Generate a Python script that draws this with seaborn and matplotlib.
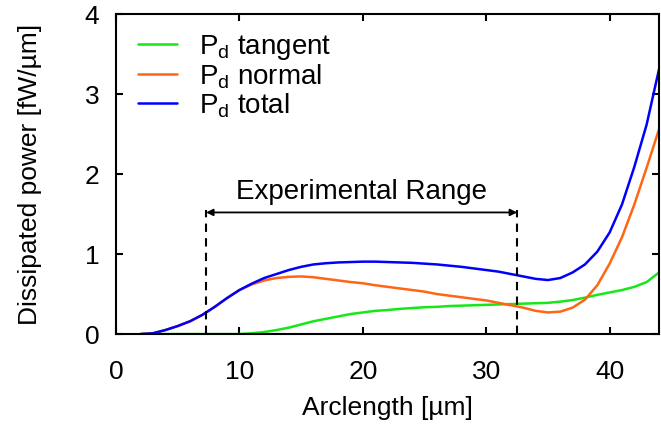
import numpy as np
import pandas as pd
import matplotlib
matplotlib.use("Agg")
import matplotlib.pyplot as plt
import seaborn as sns

# ---- data ----
arclength = [2, 3, 4, 5, 6, 7, 8, 9, 10, 11, 12, 13, 14, 15, 16, 17, 18, 19, 20, 21, 22,
             23, 24, 25, 26, 27, 28, 29, 30, 31, 32, 33, 34, 35, 36, 37, 38, 39, 40, 41, 42, 43, 44]
p_tangent = [0, 0, 0, 0, 0, 0, 0, 0, 0, 0.01, 0.025, 0.05, 0.08, 0.12, 0.16, 0.19, 0.22, 0.25, 0.27,
             0.29, 0.30, 0.315, 0.325, 0.335, 0.34, 0.35, 0.355, 0.36, 0.365, 0.37, 0.375, 0.38,
             0.385, 0.39, 0.405, 0.425, 0.455, 0.49, 0.52, 0.55, 0.59, 0.65, 0.77]
p_normal = [0.0, 0.01, 0.05, 0.10, 0.16, 0.24, 0.34, 0.45, 0.55, 0.62, 0.67, 0.70, 0.715, 0.72,
            0.71, 0.69, 0.67, 0.65, 0.635, 0.61, 0.59, 0.57, 0.55, 0.53, 0.50, 0.48, 0.46, 0.44,
            0.42, 0.39, 0.36, 0.33, 0.29, 0.27, 0.28, 0.33, 0.43, 0.61, 0.88, 1.21, 1.62, 2.08, 2.56]
p_total = [0.0, 0.01, 0.05, 0.10, 0.16, 0.24, 0.34, 0.45, 0.55, 0.63, 0.70, 0.75, 0.80, 0.84,
           0.87, 0.885, 0.895, 0.90, 0.905, 0.905, 0.90, 0.895, 0.89, 0.88, 0.87, 0.855, 0.84,
           0.82, 0.80, 0.78, 0.75, 0.72, 0.69, 0.675, 0.70, 0.77, 0.87, 1.03, 1.27, 1.62, 2.09,
           2.62, 3.31]
series_labels = [r"P$_\mathregular{d}$ tangent", r"P$_\mathregular{d}$ normal", r"P$_\mathregular{d}$ total"]
series_colors = ["#16e816", "#ff6614", "#0000ff"]
range_start, range_end = 7.3, 32.5
range_label = "Experimental Range"
x_ticks = [0, 10, 20, 30, 40]
y_ticks = [0, 1, 2, 3, 4]

df = pd.concat([
    pd.DataFrame({"x": arclength, "y": vals, "series": lab})
    for vals, lab in zip([p_tangent, p_normal, p_total], series_labels)
])

sns.set_style("ticks")
plt.rcParams["font.family"] = ["Liberation Sans", "DejaVu Sans"]
plt.rcParams["mathtext.fontset"] = "custom"
plt.rcParams["mathtext.rm"] = "Liberation Sans"
plt.rcParams["text.color"] = "black"
plt.rcParams["axes.labelcolor"] = "black"

fig = plt.figure(figsize=(6.61, 4.25), dpi=100)
ax = fig.add_axes([0.1755, 0.214, 0.8215, 0.753])

sns.lineplot(data=df, x="x", y="y", hue="series", hue_order=series_labels,
             palette=dict(zip(series_labels, series_colors)), linewidth=1.8, ax=ax)

ax.set_xlim(0, 44)
ax.set_ylim(0, 4)
ax.set_xticks(x_ticks)
ax.set_yticks(y_ticks)
ax.tick_params(direction="in", length=5, width=1.5, top=True, right=True,
               labelsize=19, colors="black")
ax.tick_params(axis="x", pad=19)
ax.tick_params(axis="y", pad=12)
for s in ax.spines.values():
    s.set_linewidth(1.5)
    s.set_color("black")

ax.set_xlabel("Arclength [µm]", fontsize=19, labelpad=8)
ax.set_ylabel("Dissipated power [fW/µm]", fontsize=19, labelpad=31)

# experimental range markers
for xv in (range_start, range_end):
    ax.plot([xv, xv], [0, 1.55], color="black", lw=1.5, ls=(0, (4, 3)))
ax.annotate("", xy=(range_start, 1.52), xytext=(range_end, 1.52),
            arrowprops=dict(arrowstyle="<|-|>", color="black", lw=1.3,
                            mutation_scale=10, shrinkA=0, shrinkB=0))
ax.text((range_start + range_end) / 2, 1.77, range_label, ha="center", va="center",
        fontsize=20)

leg = ax.legend(loc="upper left", bbox_to_anchor=(0.0, 1.01), frameon=False, fontsize=20,
                handlelength=1.4, handletextpad=0.8, labelspacing=0.0, borderaxespad=0.4)

fig.savefig("out.png", dpi=100)
